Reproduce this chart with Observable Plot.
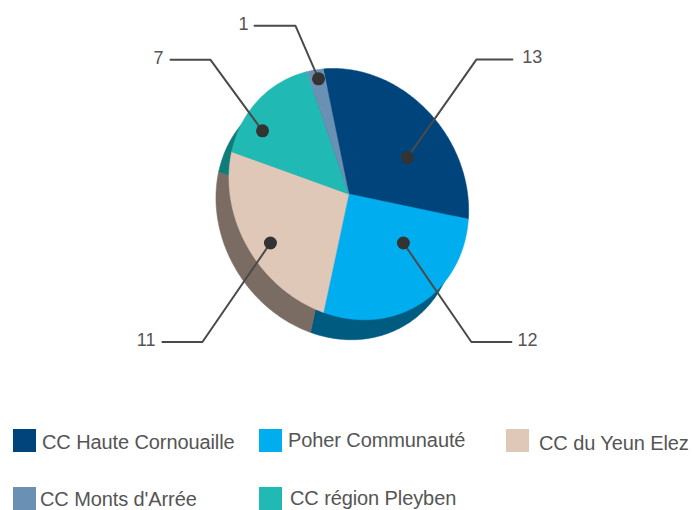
<!DOCTYPE html>
<html>
<head>
<meta charset="utf-8">
<script src="https://cdn.jsdelivr.net/npm/d3@7"></script>
<script src="https://cdn.jsdelivr.net/npm/@observablehq/plot@0.6"></script>
<style>
html,body{margin:0;padding:0;background:#fff;overflow:hidden}
#chart svg{display:block}
#legend{position:relative;width:692px;height:85px;font:20px "Liberation Sans",Arial,sans-serif;color:#555}
#legend .sw{position:absolute;width:23px;height:23px}
#legend .tx{position:absolute;white-space:nowrap;line-height:20px;letter-spacing:-.1px}
</style>
</head>
<body>
<div id="chart"></div>
<div id="legend"></div>
<script>
// Data
const names  = ["CC Haute Cornouaille", "Poher Communauté", "CC du Yeun Elez", "CC région Pleyben", "CC Monts d'Arrée"];
const values = [13, 12, 11, 7, 1];

// Colours
const faceColors = ["#00447c", "#00aeef", "#e0c8b8", "#20b9b4", "#6a90b4"];
const sideColors = ["#00395f", "#005b80", "#7a6c63", "#0e7c78", "#4f6c88"];

// Pie shape: a tilted ellipse, extruded down and to the left
const W = 692, H = 425;
const cx = 348.3, cy = 193.6, ra = 131, rb = 114, tilt = 55;
const depthX = -13, depthY = 20;
const startDeg = -153.5;

// Leader placement relative to each slice
const anchorShift = [13, -17, -3.4, -11, .6];      // degrees from mid-slice
const anchorRadius = [.605, .564, .81, .83, .927]; // fraction of the radius
const elbowDX = [69, 68, -68, -52, -23];
const elbowDY = [-98, 99, 99, -71, -53];
const runDX   = [36, 40, -40, -40, -41];
const labelGap = [10, 6, -7, -7, -6];

const rad = Math.PI / 180;
const cosT = Math.cos(tilt * rad), sinT = Math.sin(tilt * rad);
const toXY = (tDeg, f = 1) => {
  const u = ra * f * Math.cos(tDeg * rad), v = rb * f * Math.sin(tDeg * rad);
  return [cx + u * cosT - v * sinT, cy + u * sinT + v * cosT];
};

const pie = d3.pie().sort(null).startAngle(startDeg * rad).endAngle((startDeg + 360) * rad)(values);
const slices = pie.map((p, i) => ({name: names[i], value: values[i], a0: p.startAngle / rad, a1: p.endAngle / rad, i}));

const outline = (s, dx, dy, color) => {
  const pts = [{x: cx + dx, y: cy + dy}];
  for (let t = s.a0; t < s.a1; t += 1) { const [x, y] = toXY(t); pts.push({x: x + dx, y: y + dy}); }
  const [xe, ye] = toXY(s.a1); pts.push({x: xe + dx, y: ye + dy}, {x: cx + dx, y: cy + dy});
  return pts.map(p => ({...p, key: s.name, color}));
};
const sidePoly = slices.flatMap(s => outline(s, depthX, depthY, sideColors[s.i]));
const facePoly = slices.flatMap(s => outline(s, 0, 0, faceColors[s.i]));

const callouts = slices.map(s => {
  const [x, y] = toXY((s.a0 + s.a1) / 2 + anchorShift[s.i], anchorRadius[s.i]);
  const ex = x + elbowDX[s.i], ey = y + elbowDY[s.i], tx = ex + runDX[s.i];
  return {...s, x, y, ex, ey, tx, lx: tx + labelGap[s.i]};
});
const leaderPts = callouts.flatMap(c => [
  {key: c.name, x: c.x, y: c.y}, {key: c.name, x: c.ex, y: c.ey}, {key: c.name, x: c.tx, y: c.ey}
]);
const labelOpts = {x: "lx", y: "ey", text: d => String(d.value), dy: -2, fontSize: 18,
  fontFamily: "Liberation Sans, Arial, sans-serif", fill: "#555"};

const chart = Plot.plot({
  width: W, height: H, margin: 0,
  x: {domain: [0, W], range: [0, W], axis: null},
  y: {domain: [0, H], range: [0, H], axis: null},
  color: {type: "identity"},
  style: {background: "#fff"},
  marks: [
    Plot.line(sidePoly, {x: "x", y: "y", z: "key", fill: "color", stroke: "color", strokeWidth: .5}),
    Plot.line(facePoly, {x: "x", y: "y", z: "key", fill: "color", stroke: "color", strokeWidth: .5}),
    Plot.line(leaderPts, {x: "x", y: "y", z: "key", stroke: "#4a4a4a", strokeWidth: 2, strokeLinejoin: "miter"}),
    Plot.dot(callouts, {x: "x", y: "y", r: 6.5, fill: "#333", stroke: "none"}),
    Plot.text(callouts.filter(d => d.lx > d.tx), {...labelOpts, textAnchor: "start"}),
    Plot.text(callouts.filter(d => d.lx < d.tx), {...labelOpts, textAnchor: "end"})
  ]
});
document.getElementById("chart").appendChild(chart);

// Legend, in the reference's order
const legendOrder = [0, 1, 2, 4, 3];
const legendSlots = [[13, 42, 4, 7], [259, 288, 4, 5], [506, 539, 4, 8], [13, 40, 62, 64], [259, 290, 62, 63]];
const legend = document.getElementById("legend");
legendOrder.forEach((idx, k) => {
  const [sx, tx, sy, ty] = legendSlots[k];
  const sw = document.createElement("div");
  sw.className = "sw";
  sw.style.cssText = `left:${sx}px;top:${sy}px;background:${faceColors[idx]}`;
  const t = document.createElement("div");
  t.className = "tx";
  t.style.cssText = `left:${tx}px;top:${ty}px`;
  t.textContent = names[idx];
  legend.append(sw, t);
});
</script>
</body>
</html>
